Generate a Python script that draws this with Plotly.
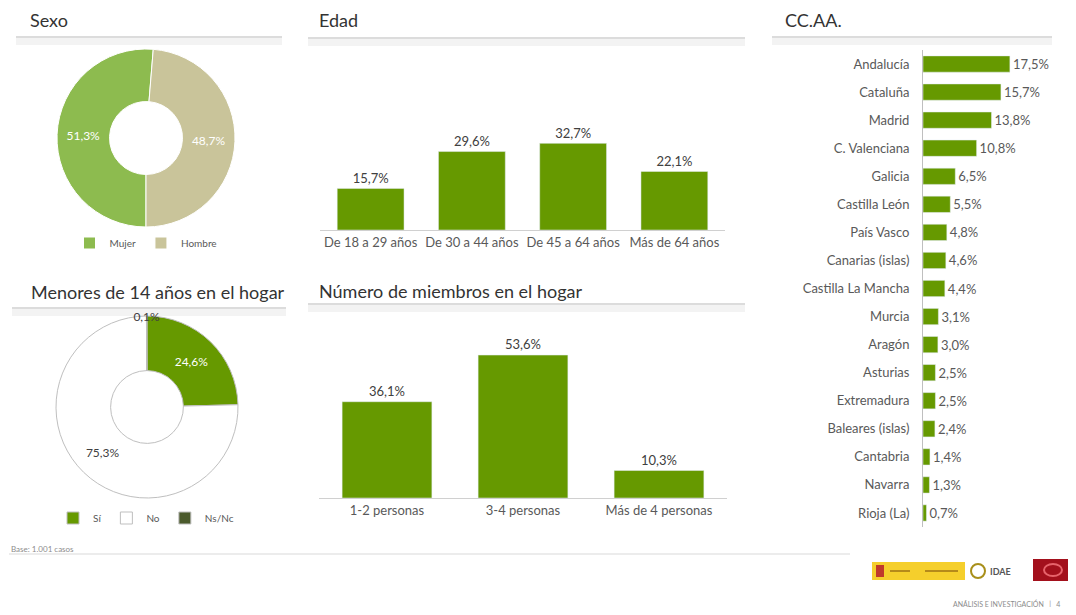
import plotly.graph_objects as go

# the page body has an 8px margin, so the figure is drawn 8px in from the window corner
OFF = 8
W, H = 1076 - 2 * OFF, 615 - 2 * OFF

# ---- data ----
sexo_labels = ["Mujer", "Hombre"]
sexo_vals = [51.3, 48.7]

edad_cats = ["De 18 a 29 años", "De 30 a 44 años", "De 45 a 64 años", "Más de 64 años"]
edad_vals = [15.7, 29.6, 32.7, 22.1]

menores_labels = ["Sí", "No", "Ns/Nc"]
menores_vals = [24.6, 75.3, 0.1]

miembros_cats = ["1-2 personas", "3-4 personas", "Más de 4 personas"]
miembros_vals = [36.1, 53.6, 10.3]

ccaa_cats = ["Andalucía", "Cataluña", "Madrid", "C. Valenciana", "Galicia", "Castilla León",
             "País Vasco", "Canarias (islas)", "Castilla La Mancha", "Murcia", "Aragón",
             "Asturias", "Extremadura", "Baleares (islas)", "Cantabria", "Navarra", "Rioja (La)"]
ccaa_vals = [17.5, 15.7, 13.8, 10.8, 6.5, 5.5, 4.8, 4.6, 4.4, 3.1, 3.0, 2.5, 2.5, 2.4, 1.4, 1.3, 0.7]

GREEN = "#669900"
FONT = "Lato"
GREY = "#595959"


def X(x):
    return (x - OFF) / W


def Y(y):
    return 1 - (y - OFF) / H


def px(x0, x1):
    return [X(x0), X(x1)]


def py(top, bottom):
    return [Y(bottom), Y(top)]


fig = go.Figure()

# Sexo donut
fig.add_trace(go.Pie(
    labels=sexo_labels, values=sexo_vals, hole=0.41, sort=False,
    direction="clockwise", rotation=180,
    marker=dict(colors=["#8dbb4f", "#c9c49a"], line=dict(color="white", width=1)),
    texttemplate="%{value:.1f}%", textposition="inside", insidetextorientation="horizontal",
    textfont=dict(color="white", size=12, family=FONT),
    domain=dict(x=px(57, 235), y=py(49, 227)), legend="legend",
))

# Menores donut
fig.add_trace(go.Pie(
    labels=menores_labels, values=menores_vals, hole=0.4, sort=False,
    direction="clockwise",
    marker=dict(colors=[GREEN, "white", "#4b5a2c"], line=dict(color="#bfbfbf", width=1)),
    texttemplate="%{value:.1f}%", textposition="inside", insidetextorientation="horizontal",
    textfont=dict(color=["white", "#404040", "#404040"], size=12, family=FONT),
    domain=dict(x=px(56, 238), y=py(316, 498)), legend="legend2",
))

# Edad bars
fig.add_trace(go.Bar(
    x=edad_cats, y=edad_vals, marker_color=GREEN, width=0.66,
    texttemplate="%{y:.1f}%", textposition="outside", cliponaxis=False,
    textfont=dict(color="#404040", size=14, family=FONT),
    xaxis="x", yaxis="y", showlegend=False,
))

# Miembros bars
fig.add_trace(go.Bar(
    x=miembros_cats, y=miembros_vals, marker_color=GREEN, width=0.66,
    texttemplate="%{y:.1f}%", textposition="outside", cliponaxis=False,
    textfont=dict(color="#404040", size=14, family=FONT),
    xaxis="x2", yaxis="y2", showlegend=False,
))

# CC.AA. horizontal bars
fig.add_trace(go.Bar(
    x=ccaa_vals, y=ccaa_cats, orientation="h", marker_color=GREEN, width=0.58,
    texttemplate="%{x:.1f}%", textposition="outside", cliponaxis=False,
    textfont=dict(color=GREY, size=13, family=FONT),
    xaxis="x3", yaxis="y3", showlegend=False,
))

cat_axis = dict(showline=True, linecolor="#d0d0d0", linewidth=1, ticks="",
                tickfont=dict(size=13, color=GREY, family=FONT), automargin=False,
                showgrid=False, zeroline=False)
val_axis = dict(visible=False, showgrid=False, zeroline=False, automargin=False)

shapes = []
annotations = []

# section titles with underline band
titles = [
    ("Sexo", 28, 20, 16, 282, 37),
    ("Edad", 317, 20, 308, 745, 38),
    ("CC.AA.", 783, 20, 772, 1052, 37),
    ("Menores de 14 años en el hogar", 29, 292, 12, 286, 308),
    ("Número de miembros en el hogar", 317, 291, 308, 745, 304),
]
for text, tx, ty, lx0, lx1, ly in titles:
    annotations.append(dict(text=text, x=X(tx), y=Y(ty), xref="paper", yref="paper",
                            xanchor="left", yanchor="middle", showarrow=False,
                            font=dict(size=18, color="#333333", family=FONT)))
    shapes.append(dict(type="rect", xref="paper", yref="paper", x0=X(lx0), x1=X(lx1),
                       y0=Y(ly + 8), y1=Y(ly), fillcolor="#f3f3f3", line_width=0,
                       layer="below"))
    shapes.append(dict(type="line", xref="paper", yref="paper", x0=X(lx0), x1=X(lx1),
                       y0=Y(ly), y1=Y(ly), line=dict(color="#dcdcdc", width=2)))

# footer
annotations.append(dict(text="Base: 1.001 casos", x=X(9), y=Y(549), xref="paper", yref="paper",
                        xanchor="left", yanchor="middle", showarrow=False,
                        font=dict(size=8, color="#8c8c8c", family=FONT)))
shapes.append(dict(type="line", xref="paper", yref="paper", x0=X(9), x1=X(850),
                   y0=Y(554), y1=Y(554), line=dict(color="#ececec", width=2)))
annotations.append(dict(text="ANÁLISIS E INVESTIGACIÓN   |   4", x=X(1062), y=Y(603),
                        xref="paper", yref="paper", xanchor="right", yanchor="middle",
                        showarrow=False, font=dict(size=7, color="#8c8c8c", family=FONT)))

# logos (decorative)
shapes += [
    dict(type="rect", xref="paper", yref="paper", x0=X(872), x1=X(965),
         y0=Y(580), y1=Y(562), fillcolor="#f5cf2c", line_width=0),
    dict(type="rect", xref="paper", yref="paper", x0=X(876), x1=X(884),
         y0=Y(577), y1=Y(565), fillcolor="#c0392b", line_width=0),
    dict(type="line", xref="paper", yref="paper", x0=X(890), x1=X(910),
         y0=Y(571), y1=Y(571), line=dict(color="#b58a1a", width=2)),
    dict(type="line", xref="paper", yref="paper", x0=X(925), x1=X(958),
         y0=Y(571), y1=Y(571), line=dict(color="#b58a1a", width=2)),
    dict(type="circle", xref="paper", yref="paper", x0=X(971), x1=X(985),
         y0=Y(578), y1=Y(564), line=dict(color="#a88f1a", width=2)),
    dict(type="rect", xref="paper", yref="paper", x0=X(1033), x1=1,
         y0=Y(581), y1=Y(559), fillcolor="#a3101c", line_width=0),
    dict(type="circle", xref="paper", yref="paper", x0=X(1044), x1=X(1062),
         y0=Y(576), y1=Y(564), line=dict(color="#e7636b", width=2)),
]
annotations.append(dict(text="<b>IDAE</b>", x=X(988), y=Y(571), xref="paper", yref="paper",
                        xanchor="left", yanchor="middle", showarrow=False,
                        font=dict(size=9, color="#555555", family=FONT)))

fig.update_layout(
    width=W, height=H, margin=dict(l=0, r=0, t=0, b=0),
    paper_bgcolor="white", plot_bgcolor="white",
    separators=",.",
    font=dict(family=FONT, color=GREY),
    uniformtext=dict(mode="show", minsize=12),
    xaxis=dict(domain=px(320, 725), anchor="y", **cat_axis),
    yaxis=dict(domain=py(124, 230), range=[0, 40], anchor="x", **val_axis),
    xaxis2=dict(domain=px(319, 727), anchor="y2", **cat_axis),
    yaxis2=dict(domain=py(338, 498), range=[0, 60], anchor="x2", **val_axis),
    xaxis3=dict(domain=px(923, 1062), range=[0, 28], anchor="y3", **val_axis),
    yaxis3=dict(domain=py(50, 527), anchor="x3", autorange="reversed",
                showline=True, linecolor="#bfbfbf", ticks="", ticklabelstandoff=10,
                tickfont=dict(size=13, color=GREY, family=FONT), automargin=False,
                showgrid=False, zeroline=False),
    legend=dict(orientation="h", x=X(146), y=Y(243), xanchor="center", yanchor="middle",
                font=dict(size=10, color=GREY, family=FONT), itemwidth=30, bgcolor="rgba(0,0,0,0)"),
    legend2=dict(orientation="h", x=X(146), y=Y(518), xanchor="center", yanchor="middle",
                 font=dict(size=10, color=GREY, family=FONT), itemwidth=30, bgcolor="rgba(0,0,0,0)"),
    shapes=shapes, annotations=annotations,
)

fig.write_html("out.html")
